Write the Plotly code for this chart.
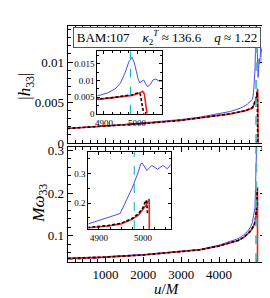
import plotly.graph_objects as go

W, H = 270, 298
def px(x):
    return x / W
def py(y):
    return 1 - y / H

# ---------------- data ----------------
u_merger = 4980

# |h33| blue
u_blue_h = [0, 1000, 2000, 3000, 3500, 4000, 4300, 4500, 4650, 4750, 4820, 4882, 4910, 4933,
            4950, 4963, 4975, 4985, 4992, 4998, 5003, 5008, 5014, 5020, 5026, 5032, 5040,
            5048, 5057, 5066, 5075, 5100, 5130, 5160, 5190, 5215]
h_blue = [0.0018, 0.0021, 0.0025, 0.0029, 0.0032, 0.0036, 0.0039, 0.0042, 0.0045, 0.0048,
          0.0051, 0.0054, 0.0062, 0.0074, 0.0092, 0.0121, 0.0155, 0.0169, 0.0152, 0.0126,
          0.0105, 0.0093, 0.0097, 0.0101, 0.0090, 0.0081, 0.0088, 0.0101, 0.0104, 0.0098,
          0.0098, 0.0118, 0.0112, 0.0078, 0.0045, 0.0020]

# |h33| red
u_red_h = [0, 1000, 2000, 3000, 3500, 4000, 4300, 4500, 4700, 4882, 4933, 4985, 5005, 5017,
           5022, 5026, 5030]
h_red = [0.0018, 0.0021, 0.0024, 0.0028, 0.0031, 0.0034, 0.0036, 0.0038, 0.0040, 0.0043,
         0.0048, 0.0055, 0.0061, 0.0067, 0.0060, 0.0035, 0.0]

# |h33| black
u_blk_h = [0, 1000, 2000, 3000, 3500, 4000, 4300, 4500, 4700, 4882, 4933, 4985, 5000, 5005,
           5010, 5015, 5020]
h_blk = [0.0018, 0.0021, 0.0024, 0.0028, 0.0031, 0.0034, 0.0036, 0.0038, 0.0040, 0.0044,
         0.0049, 0.0057, 0.0062, 0.0063, 0.0058, 0.0030, 0.0]

# M omega33 blue
u_blue_w = [0, 100, 200, 300, 400, 500, 600, 700, 800, 900, 1000, 2000, 3000, 3500, 4000,
            4300, 4500, 4650, 4750, 4820, 4876, 4948, 4962, 4975, 4988, 4995, 4998, 5003,
            5009, 5015, 5020, 5027, 5033, 5040, 5045, 5050, 5055, 5063, 5080, 5100, 5130,
            5160, 5190, 5215]
w_blue = [0.047, 0.044, 0.048, 0.045, 0.047, 0.046, 0.049, 0.046, 0.048, 0.050, 0.051,
          0.056, 0.063, 0.068, 0.078, 0.086, 0.093, 0.102, 0.110, 0.119, 0.130, 0.165,
          0.210, 0.250, 0.300, 0.333, 0.335, 0.325, 0.310, 0.320, 0.327, 0.320, 0.314,
          0.322, 0.327, 0.322, 0.316, 0.330, 0.320, 0.310, 0.300, 0.295, 0.290, 0.290]

# M omega33 red
u_red_w = [0, 1000, 2000, 3000, 3500, 4000, 4300, 4500, 4650, 4750, 4820, 4876, 4920, 4950,
           4975, 4990, 5000, 5008, 5014, 5014.5]
w_red = [0.047, 0.050, 0.055, 0.062, 0.067, 0.076, 0.083, 0.089, 0.096, 0.103, 0.110,
         0.117, 0.123, 0.130, 0.145, 0.160, 0.178, 0.195, 0.214, 0.0]

# M omega33 black
u_blk_w = [0, 1000, 2000, 3000, 3500, 4000, 4300, 4500, 4650, 4750, 4820, 4876, 4920, 4950,
           4975, 4990, 5000, 5005, 5007, 5009, 5010]
w_blk = [0.047, 0.050, 0.055, 0.062, 0.067, 0.076, 0.083, 0.089, 0.096, 0.103, 0.110,
         0.118, 0.124, 0.132, 0.148, 0.165, 0.185, 0.205, 0.210, 0.190, 0.165]

main_xticks = [1000, 2000, 3000, 4000]
h_ticks = [0, 0.005, 0.01]
h_ticktext = ["0", "0.005", "0.01"]
w_ticks = [0.1, 0.2, 0.3]
inset_xticks = [4900, 5000]
inset_h_ticks = [0, 0.005, 0.01, 0.015]
inset_h_ticktext = ["0", "0.005", "0.01", "0.015"]
inset_w_ticks = [0.2, 0.3]

legend_text = "BAM:107    <i>κ</i><sub>2</sub><sup><i>T</i></sup> ≈ 136.6    <i>q</i> ≈ 1.22"

# ---------------- styles ----------------
BLUE = "#4a4aff"
RED = "#ff1a1a"
BLACK = "#000000"
CYAN_MAIN = "rgba(70,180,180,0.85)"
CYAN_IN = "#00b4b4"
FONT = "Liberation Serif"

fig = go.Figure()

def add_set(xa, ya, lw_scale=1.0):
    fig.add_trace(go.Scatter(x=u_blue_h if ya in ("y2", "y3") else u_blue_w,
                             y=h_blue if ya in ("y2", "y3") else w_blue,
                             mode="lines", line=dict(color=BLUE, width=1.0),
                             xaxis=xa, yaxis=ya, hoverinfo="skip"))
    fig.add_trace(go.Scatter(x=u_red_h if ya in ("y2", "y3") else u_red_w,
                             y=h_red if ya in ("y2", "y3") else w_red,
                             mode="lines", line=dict(color=RED, width=1.6 * lw_scale),
                             xaxis=xa, yaxis=ya, hoverinfo="skip"))
    fig.add_trace(go.Scatter(x=u_blk_h if ya in ("y2", "y3") else u_blk_w,
                             y=h_blk if ya in ("y2", "y3") else w_blk,
                             mode="lines", line=dict(color=BLACK, width=1.6 * lw_scale, dash="3px,2px"),
                             xaxis=xa, yaxis=ya, hoverinfo="skip"))

add_set("x2", "y2")
add_set("x", "y")
add_set("x3", "y3")
add_set("x4", "y4")

# merger lines
for xr, yr, col, wd in [("x", "y", CYAN_MAIN, 2.2), ("x2", "y2", CYAN_MAIN, 2.2),
                        ("x3", "y3", CYAN_IN, 1.0), ("x4", "y4", CYAN_IN, 1.0)]:
    fig.add_shape(type="line", xref=xr, yref=yr + " domain", x0=u_merger, x1=u_merger,
                  y0=0, y1=1, line=dict(color=col, width=wd, dash="dash"), layer="above")

axis_common = dict(showline=True, linecolor="black", linewidth=1, mirror="allticks",
                   ticks="inside", showgrid=False, zeroline=False, tickcolor="black")

main_x = dict(axis_common, domain=[px(58), px(257)], range=[0, 5215],
              tickmode="array", tickvals=main_xticks, ticklen=5, tickwidth=1,
              tickfont=dict(family=FONT, size=13, color="black"),
              minor=dict(tickmode="linear", tick0=0, dtick=200, ticks="inside", ticklen=3,
                         tickcolor="black", showgrid=False))

fig.update_layout(
    width=W, height=H, margin=dict(l=0, r=0, t=0, b=0),
    paper_bgcolor="white", plot_bgcolor="white", showlegend=False,
    font=dict(family=FONT, color="black"),
    xaxis=dict(main_x, anchor="y"),
    yaxis=dict(axis_common, domain=[py(260.7), py(141)], range=[0.038, 0.307], anchor="x",
               tickmode="array", tickvals=w_ticks, ticklen=5,
               tickfont=dict(family=FONT, size=13, color="black"),
               minor=dict(tickmode="linear", tick0=0, dtick=0.02, ticks="inside", ticklen=3,
                          tickcolor="black", showgrid=False)),
    xaxis2=dict(main_x, anchor="y2", matches="x", showticklabels=False),
    yaxis2=dict(axis_common, domain=[py(136.5), py(15)], range=[0, 0.0144], anchor="x2",
                tickmode="array", tickvals=h_ticks, ticktext=h_ticktext, ticklen=5,
                tickfont=dict(family=FONT, size=13, color="black"),
                minor=dict(tickmode="linear", tick0=0, dtick=0.001, ticks="inside", ticklen=3,
                           tickcolor="black", showgrid=False)),
    xaxis3=dict(axis_common, domain=[px(88), px(153)], range=[4880, 5075], anchor="y3",
                tickmode="array", tickvals=inset_xticks, ticklen=3,
                tickfont=dict(family=FONT, size=9, color="black"),
                minor=dict(tickmode="linear", tick0=4800, dtick=25, ticks="inside", ticklen=2,
                           tickcolor="black", showgrid=False)),
    yaxis3=dict(axis_common, domain=[py(106), py(41)], range=[0, 0.0187], anchor="x3",
                tickmode="array", tickvals=inset_h_ticks, ticktext=inset_h_ticktext, ticklen=3,
                tickfont=dict(family=FONT, size=9, color="black"),
                minor=dict(tickmode="linear", tick0=0, dtick=0.0025, ticks="inside", ticklen=2,
                           tickcolor="black", showgrid=False)),
    xaxis4=dict(axis_common, domain=[px(79), px(162)], range=[4876, 5063], anchor="y4",
                tickmode="array", tickvals=inset_xticks, ticklen=3,
                tickfont=dict(family=FONT, size=9, color="black"),
                minor=dict(tickmode="linear", tick0=4800, dtick=25, ticks="inside", ticklen=2,
                           tickcolor="black", showgrid=False)),
    yaxis4=dict(axis_common, domain=[py(226), py(146)], range=[0.113, 0.372], anchor="x4",
                tickmode="array", tickvals=inset_w_ticks, ticklen=3,
                tickfont=dict(family=FONT, size=9, color="black"),
                minor=dict(tickmode="linear", tick0=0, dtick=0.05, ticks="inside", ticklen=2,
                           tickcolor="black", showgrid=False)),
)

fig.add_annotation(xref="paper", yref="paper", x=px(158), y=py(27), text=legend_text,
                   showarrow=False, xanchor="center", yanchor="middle",
                   font=dict(family=FONT, size=13, color="black"),
                   bgcolor="white", bordercolor="#555555", borderwidth=1, borderpad=0,
                   width=186, height=19)
fig.add_annotation(xref="paper", yref="paper", x=px(16), y=py(77),
                   text="|<i>h</i><sub>33</sub>|", textangle=-90, showarrow=False,
                   xanchor="center", yanchor="middle",
                   font=dict(family=FONT, size=17, color="black"))
fig.add_annotation(xref="paper", yref="paper", x=px(30), y=py(199),
                   text="<i>Mω</i><sub>33</sub>", textangle=-90, showarrow=False,
                   xanchor="center", yanchor="middle",
                   font=dict(family=FONT, size=17, color="black"))
fig.add_annotation(xref="paper", yref="paper", x=px(158), y=py(289),
                   text="<i>u</i>/<i>M</i>", showarrow=False,
                   xanchor="center", yanchor="middle",
                   font=dict(family=FONT, size=15, color="black"))

fig.write_html("out.html")
